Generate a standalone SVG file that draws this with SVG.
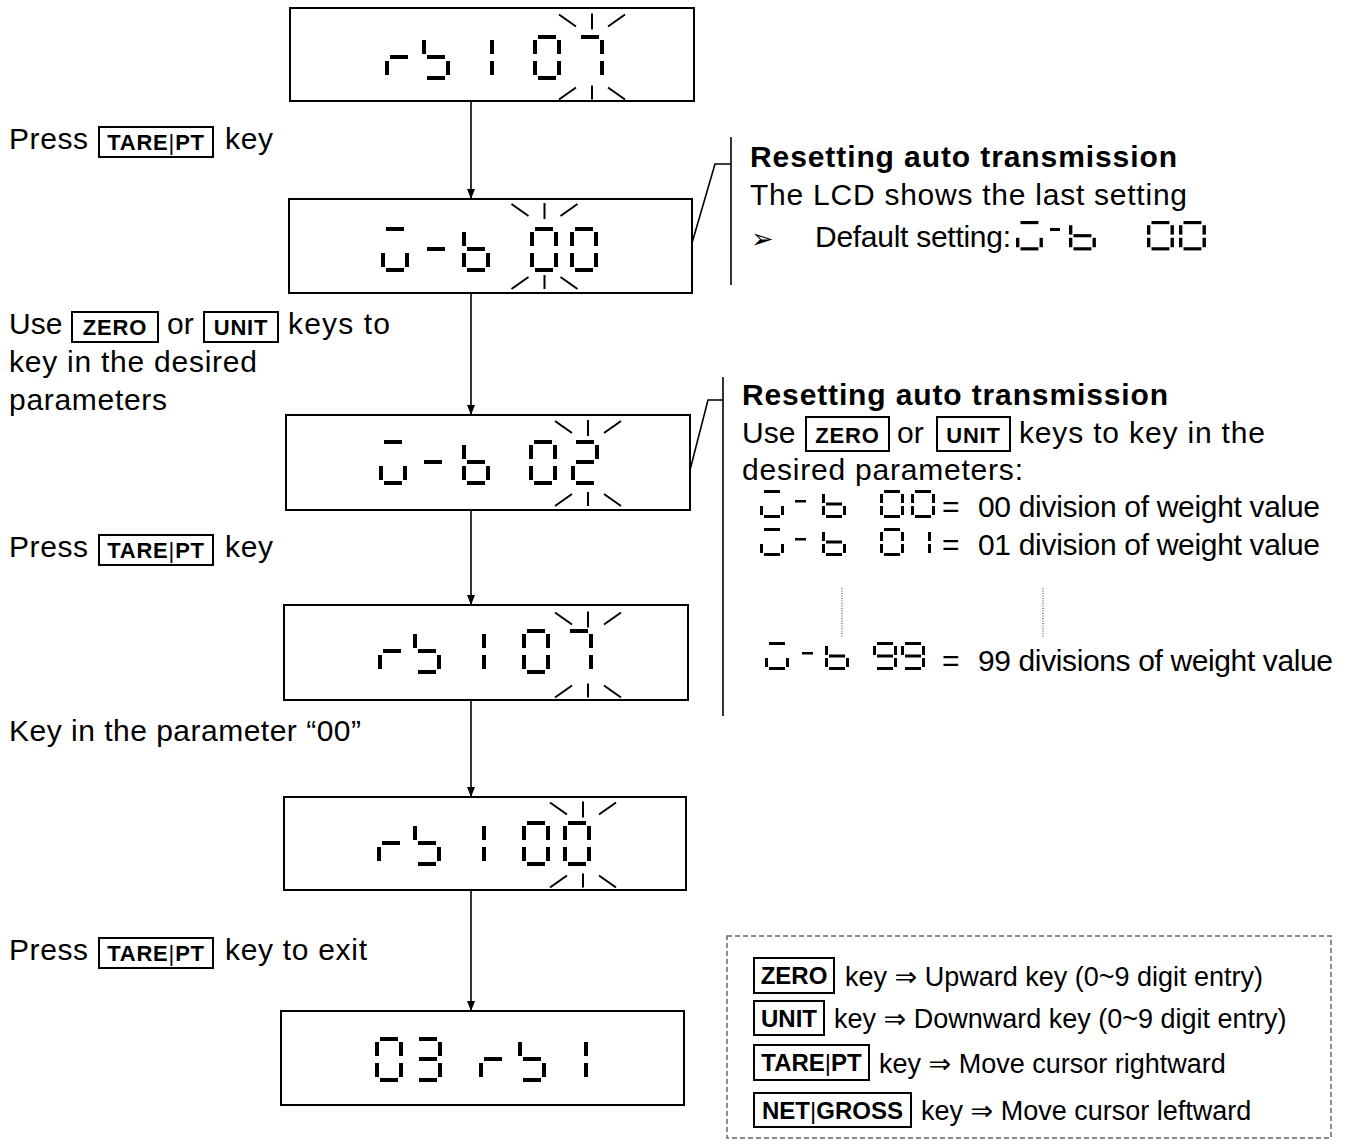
<svg xmlns="http://www.w3.org/2000/svg" xmlns:xlink="http://www.w3.org/1999/xlink" width="1351" height="1142" viewBox="0 0 1351 1142">
<style>
.t{font-family:"Liberation Sans","DejaVu Sans",sans-serif;font-size:30px;fill:#000}
.tb{font-family:"Liberation Sans","DejaVu Sans",sans-serif;font-size:30px;font-weight:bold;fill:#000}
.k{font-family:"Liberation Sans","DejaVu Sans",sans-serif;font-size:22px;font-weight:bold;letter-spacing:0.8px;fill:#000;text-anchor:middle}
.kl{font-family:"Liberation Sans","DejaVu Sans",sans-serif;font-size:24px;font-weight:bold;fill:#000;text-anchor:middle}
.lg{font-family:"Liberation Sans","DejaVu Sans",sans-serif;font-size:27px;fill:#000}
.bar{font-weight:normal}
.box{fill:#fff;stroke:#000;stroke-width:2}
.kb{fill:none;stroke:#000;stroke-width:2}
.ln{fill:none;stroke:#000;stroke-width:1.6}
.sp{fill:none;stroke:#000;stroke-width:2}
.dot{fill:none;stroke:#555;stroke-width:1.2;stroke-dasharray:1 1.5}
.seg{fill:#000}
</style>
<defs>
<marker id="ah" markerWidth="10" markerHeight="8" refX="10" refY="4" orient="auto" markerUnits="userSpaceOnUse">
<path d="M0,0 L10,4 L0,8 z" fill="#000"/>
</marker>
<rect id="sA" class="seg" x="5" y="0" width="18" height="4"/>
<rect id="sB" class="seg" x="24" y="5" width="4" height="14"/>
<rect id="sC" class="seg" x="24" y="26" width="4" height="14"/>
<rect id="sD" class="seg" x="5" y="41" width="18" height="4"/>
<rect id="sE" class="seg" x="0" y="26" width="4" height="14"/>
<rect id="sF" class="seg" x="0" y="5" width="4" height="14"/>
<rect id="sG" class="seg" x="5" y="20" width="18" height="4"/>
<g id="Lr"><use href="#sE"/><use href="#sG"/></g>
<g id="Lb5"><use href="#sF"/><use href="#sG"/><use href="#sC"/><use href="#sD"/></g>
<g id="L1"><use href="#sB"/><use href="#sC"/></g>
<g id="L0"><use href="#sA"/><use href="#sB"/><use href="#sC"/><use href="#sD"/><use href="#sE"/><use href="#sF"/></g>
<g id="L7"><use href="#sA"/><use href="#sB"/><use href="#sC"/></g>
<g id="Lu"><use href="#sA"/><use href="#sE"/><use href="#sC"/><use href="#sD"/></g>
<g id="Lm"><use href="#sG"/></g>
<g id="Lb"><use href="#sF"/><use href="#sE"/><use href="#sG"/><use href="#sC"/><use href="#sD"/></g>
<g id="L2"><use href="#sA"/><use href="#sB"/><use href="#sG"/><use href="#sE"/><use href="#sD"/></g>
<g id="L3"><use href="#sA"/><use href="#sB"/><use href="#sG"/><use href="#sC"/><use href="#sD"/></g>
<rect id="tA" class="seg" x="4" y="0" width="16" height="3"/>
<rect id="tB" class="seg" x="21" y="4" width="3" height="9"/>
<rect id="tC" class="seg" x="21" y="16" width="3" height="9"/>
<rect id="tD" class="seg" x="4" y="25" width="16" height="3"/>
<rect id="tE" class="seg" x="0" y="16" width="3" height="9"/>
<rect id="tF" class="seg" x="0" y="4" width="3" height="9"/>
<rect id="tG" class="seg" x="4" y="12.5" width="16" height="3"/>
<g id="Su"><use href="#tA"/><use href="#tE"/><use href="#tC"/><use href="#tD"/></g>
<g id="Sb"><use href="#tF"/><use href="#tE"/><use href="#tG"/><use href="#tC"/><use href="#tD"/></g>
<g id="S0"><use href="#tA"/><use href="#tB"/><use href="#tC"/><use href="#tD"/><use href="#tE"/><use href="#tF"/></g>
<g id="S1"><use href="#tB"/><use href="#tC"/></g>
<g id="S9"><use href="#tA"/><use href="#tB"/><use href="#tF"/><use href="#tG"/><use href="#tC"/><use href="#tD"/></g>
<g id="spark" class="sp">
<line x1="0" y1="-44" x2="0" y2="-28"/>
<line x1="0" y1="28" x2="0" y2="42"/>
<line x1="-33" y1="-43" x2="-16" y2="-31"/>
<line x1="16" y1="-31" x2="33" y2="-43"/>
<line x1="-33" y1="42" x2="-16" y2="30"/>
<line x1="16" y1="30" x2="33" y2="42"/>
</g>
</defs>

<g id="connectors">
<line class="ln" x1="471" y1="101" x2="471" y2="199" marker-end="url(#ah)"/>
<line class="ln" x1="471" y1="293" x2="471" y2="415" marker-end="url(#ah)"/>
<line class="ln" x1="471" y1="510" x2="471" y2="605" marker-end="url(#ah)"/>
<line class="ln" x1="471" y1="700" x2="471" y2="797" marker-end="url(#ah)"/>
<line class="ln" x1="471" y1="890" x2="471" y2="1011" marker-end="url(#ah)"/>
<polyline class="ln" points="692,243 715,164 731,164"/>
<polyline class="ln" points="690,470 708,400 723,400"/>
</g>

<g id="display1">
<rect class="box" x="290" y="8" width="404" height="93"/>
<use href="#Lr" x="385" y="35"/><use href="#Lb5" x="422" y="35"/><use href="#L1" x="466" y="35"/><use href="#L0" x="533" y="35"/><use href="#L7" x="576" y="35"/>
<use href="#spark" x="592" y="57.5"/>
</g>
<g id="display2">
<rect class="box" x="289" y="199" width="403" height="94"/>
<use href="#Lu" x="381" y="227"/><use href="#Lm" x="422" y="227"/><use href="#Lb" x="462" y="227"/><use href="#L0" x="530" y="227"/><use href="#L0" x="570" y="227"/>
<use href="#spark" x="544.5" y="247"/>
</g>
<g id="display3">
<rect class="box" x="286" y="415" width="404" height="95"/>
<use href="#Lu" x="379" y="440"/><use href="#Lm" x="419" y="440"/><use href="#Lb" x="462" y="440"/><use href="#L0" x="529" y="440"/><use href="#L2" x="571" y="440"/>
<use href="#spark" x="588" y="464"/>
</g>
<g id="display4">
<rect class="box" x="284" y="605" width="404" height="95"/>
<use href="#Lr" x="378" y="629"/><use href="#Lb5" x="413" y="629"/><use href="#L1" x="458" y="629"/><use href="#L0" x="522" y="629"/><use href="#L7" x="565" y="629"/>
<use href="#spark" x="588" y="655.5"/>
</g>
<g id="display5">
<rect class="box" x="284" y="797" width="402" height="93"/>
<use href="#Lr" x="377" y="821"/><use href="#Lb5" x="413" y="821"/><use href="#L1" x="458" y="821"/><use href="#L0" x="522" y="821"/><use href="#L0" x="563" y="821"/>
<use href="#spark" x="583" y="845.5"/>
</g>
<g id="display6">
<rect class="box" x="281" y="1011" width="403" height="94"/>
<use href="#L0" x="375" y="1037"/><use href="#L3" x="414" y="1037"/><use href="#Lr" x="479" y="1037"/><use href="#Lb5" x="518" y="1037"/><use href="#L1" x="560" y="1037"/>
</g>

<g id="step1">
<text class="t" x="9" y="149" textLength="79" lengthAdjust="spacing">Press</text>
<rect class="kb" x="99" y="127" width="114" height="30"/>
<text class="k" x="156" y="150">TARE<tspan class="bar">|</tspan>PT</text>
<text class="t" x="225" y="149" textLength="48" lengthAdjust="spacing">key</text>
</g>
<g id="step2">
<text class="t" x="9" y="334">Use</text>
<rect class="kb" x="72" y="312" width="86" height="30"/>
<text class="k" x="115" y="335">ZERO</text>
<text class="t" x="167" y="334">or</text>
<rect class="kb" x="204" y="312" width="74" height="30"/>
<text class="k" x="241" y="335">UNIT</text>
<text class="t" x="288" y="334" textLength="102" lengthAdjust="spacing">keys to</text>
<text class="t" x="9" y="372" textLength="248" lengthAdjust="spacing">key in the desired</text>
<text class="t" x="9" y="410" textLength="158" lengthAdjust="spacing">parameters</text>
</g>
<g id="step3">
<text class="t" x="9" y="557" textLength="79" lengthAdjust="spacing">Press</text>
<rect class="kb" x="99" y="535" width="114" height="30"/>
<text class="k" x="156" y="558">TARE<tspan class="bar">|</tspan>PT</text>
<text class="t" x="225" y="557" textLength="48" lengthAdjust="spacing">key</text>
</g>
<g id="step4">
<text class="t" x="9" y="741" textLength="352" lengthAdjust="spacing">Key in the parameter “00”</text>
</g>
<g id="step5">
<text class="t" x="9" y="960" textLength="79" lengthAdjust="spacing">Press</text>
<rect class="kb" x="99" y="938" width="114" height="30"/>
<text class="k" x="156" y="961">TARE<tspan class="bar">|</tspan>PT</text>
<text class="t" x="225" y="960" textLength="142" lengthAdjust="spacing">key to exit</text>
</g>

<g id="note1">
<line class="ln" x1="731" y1="137" x2="731" y2="285"/>
<text class="tb" x="750" y="167" textLength="427" lengthAdjust="spacing">Resetting auto transmission</text>
<text class="t" x="750" y="205" textLength="437" lengthAdjust="spacing">The LCD shows the last setting</text>
<text x="751" y="248" style="font-family:'DejaVu Sans',sans-serif;font-size:27px">➢</text>
<text class="t" x="815" y="247" textLength="196" lengthAdjust="spacing">Default setting:</text>
<g transform="translate(1016,221) scale(1.12,1.05)"><use href="#Su"/></g>
<rect class="seg" x="1050" y="228" width="10" height="3"/>
<g transform="translate(1069,221) scale(1.12,1.05)"><use href="#Sb"/></g>
<g transform="translate(1147,221) scale(1.12,1.05)"><use href="#S0"/></g>
<g transform="translate(1179,221) scale(1.12,1.05)"><use href="#S0"/></g>
</g>

<g id="note2">
<line class="ln" x1="723" y1="377" x2="723" y2="716"/>
<text class="tb" x="742" y="405" textLength="426" lengthAdjust="spacing">Resetting auto transmission</text>
<text class="t" x="742" y="443">Use</text>
<rect class="kb" x="806" y="417" width="83" height="34"/>
<text class="k" x="847.5" y="443">ZERO</text>
<text class="t" x="897" y="443">or</text>
<rect class="kb" x="937" y="417" width="73" height="34"/>
<text class="k" x="973.5" y="443">UNIT</text>
<text class="t" x="1019" y="443" textLength="246" lengthAdjust="spacing">keys to key in the</text>
<text class="t" x="742" y="480" textLength="281" lengthAdjust="spacing">desired parameters:</text>
<use href="#Su" x="760" y="490"/><rect class="seg" x="795" y="500" width="11" height="2.5"/><use href="#Sb" x="822" y="490"/><use href="#S0" x="880" y="490"/><use href="#S0" x="911" y="490"/>
<text class="t" x="942" y="517">=</text>
<text class="t" x="978" y="517" textLength="342" lengthAdjust="spacing">00 division of weight value</text>
<use href="#Su" x="760" y="528"/><rect class="seg" x="795" y="538" width="11" height="2.5"/><use href="#Sb" x="822" y="528"/><use href="#S0" x="880" y="528"/><use href="#S1" x="907" y="528"/>
<text class="t" x="942" y="555">=</text>
<text class="t" x="978" y="555" textLength="342" lengthAdjust="spacing">01 division of weight value</text>
<line class="dot" x1="842" y1="588" x2="842" y2="638"/>
<line class="dot" x1="1043" y1="588" x2="1043" y2="638"/>
<use href="#Su" x="765" y="642"/><rect class="seg" x="802" y="652" width="11" height="2.5"/><use href="#Sb" x="825" y="642"/><use href="#S9" x="873" y="642"/><use href="#S9" x="901" y="642"/>
<text class="t" x="942" y="671">=</text>
<text class="t" x="978" y="671" textLength="355" lengthAdjust="spacing">99 divisions of weight value</text>
</g>

<g id="legend">
<rect x="727" y="936" width="604" height="202" fill="none" stroke="#666" stroke-width="1.5" stroke-dasharray="5 3"/>
<rect class="kb" x="754" y="958" width="80" height="35"/>
<text class="kl" x="794" y="984">ZERO</text>
<text class="lg" x="845" y="986">key ⇒ Upward key (0~9 digit entry)</text>
<rect class="kb" x="754" y="1001" width="70" height="34"/>
<text class="kl" x="789" y="1027">UNIT</text>
<text class="lg" x="834" y="1028">key ⇒ Downward key (0~9 digit entry)</text>
<rect class="kb" x="754" y="1045" width="115" height="35"/>
<text class="kl" x="811.5" y="1071">TARE<tspan class="bar">|</tspan>PT</text>
<text class="lg" x="879" y="1073">key ⇒ Move cursor rightward</text>
<rect class="kb" x="754" y="1093" width="157" height="34"/>
<text class="kl" x="832.5" y="1119">NET<tspan class="bar">|</tspan>GROSS</text>
<text class="lg" x="921" y="1120">key ⇒ Move cursor leftward</text>
</g>
</svg>
